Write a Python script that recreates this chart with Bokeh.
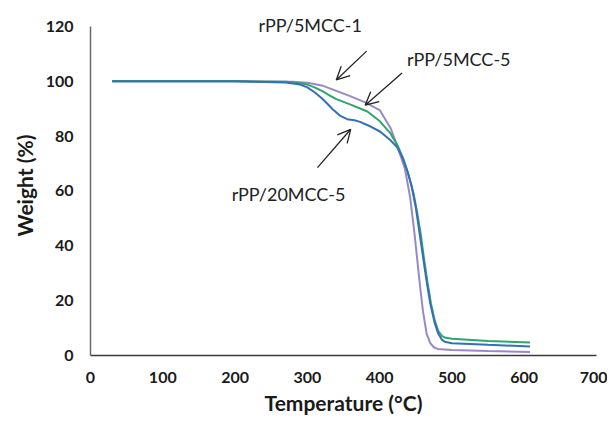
from bokeh.plotting import figure
from bokeh.models import Range1d, Arrow, OpenHead, Label, FixedTicker
from bokeh.embed import file_html
from bokeh.resources import INLINE

# Temperature (°C) and weight (%)
temp_5mcc1 = [30, 100, 200, 280, 300, 320, 340, 360, 380, 400, 415, 425, 435, 442, 448, 452, 456, 460, 465, 470, 475, 480, 500, 550, 608]
wt_5mcc1   = [100, 100, 100, 99.8, 99.5, 98.5, 96.5, 94.5, 92.3, 89.5, 83, 76, 68, 58, 45, 35, 25, 16, 8, 4.5, 3, 2.4, 2.0, 1.6, 1.3]

temp_5mcc5 = [30, 100, 200, 270, 290, 300, 310, 320, 330, 340, 360, 383, 400, 415, 425, 433, 440, 447, 452, 457, 461, 466, 471, 476, 481, 486, 490, 500, 550, 608]
wt_5mcc5   = [100, 100, 100, 99.8, 99.3, 98.8, 97.8, 96.5, 95, 93.5, 91.5, 89, 85.5, 81, 76.5, 71.5, 66, 59, 52, 44, 36, 27, 19, 13, 9, 7.2, 6.6, 6.1, 5.3, 4.7]

temp_20mcc5 = [30, 100, 200, 270, 290, 300, 310, 320, 327, 335, 345, 355, 365, 373, 385, 401, 415, 424, 432, 438, 444, 450, 455, 460, 465, 470, 476, 481, 486, 490, 500, 550, 608]
wt_20mcc5   = [100, 100, 100, 99.6, 98.8, 97.8, 96, 93.8, 92, 89.8, 87.5, 86.2, 85.8, 85.2, 83.8, 81.6, 78.5, 76, 72, 67.5, 62, 54, 45, 36, 27, 19, 12, 8, 5.8, 5.0, 4.5, 3.9, 3.3]

x_ticks = [0, 100, 200, 300, 400, 500, 600, 700]
y_ticks = [0, 20, 40, 60, 80, 100, 120]

series_names = ["rPP/5MCC-1", "rPP/5MCC-5", "rPP/20MCC-5"]

p = figure(width=607, height=417, output_backend="svg", toolbar_location=None,
           x_range=Range1d(0, 700), y_range=Range1d(0, 124),
           min_border_left=90, min_border_right=11, min_border_top=15, min_border_bottom=62)

p.grid.visible = False
p.outline_line_color = None
p.background_fill_color = "white"
p.border_fill_color = "white"

for ax in (p.xaxis[0], p.yaxis[0]):
    ax.major_tick_line_color = None
    ax.minor_tick_line_color = None
    ax.major_tick_out = 0
    ax.major_tick_in = 0
    ax.minor_tick_out = 0
    ax.minor_tick_in = 0
    ax.major_label_text_font = "Lato"
    ax.major_label_text_font_style = "bold"
    ax.major_label_text_font_size = "16px"
    ax.major_label_text_color = "#1a1a1a"
    ax.axis_label_text_font = "Lato"
    ax.axis_label_text_font_style = "bold"
    ax.axis_label_text_font_size = "21px"
    ax.axis_label_text_color = "#1a1a1a"
    ax.axis_line_width = 1.5

p.xaxis.ticker = FixedTicker(ticks=x_ticks)
p.yaxis.ticker = FixedTicker(ticks=y_ticks)
p.yaxis.bounds = (0, 120)
p.xaxis.axis_label = "Temperature (°C)"
p.yaxis.axis_label = "Weight (%)"
p.xaxis.axis_line_color = "#3a3a3a"
p.yaxis.axis_line_color = "#6a6a6a"
p.xaxis.major_label_standoff = 16
p.yaxis.major_label_standoff = 17
p.xaxis.axis_label_standoff = 4
p.yaxis.axis_label_standoff = 6

p.line(temp_5mcc1, wt_5mcc1, line_color="#9a88c6", line_width=2)
p.line(temp_5mcc5, wt_5mcc5, line_color="#2ea56c", line_width=2)
p.line(temp_20mcc5, wt_20mcc5, line_color="#356fb6", line_width=2)

# annotations (label text, text anchor, arrow start, arrow tip) in data units
label_pos = [(304, 120.5), (438, 108), (274, 59)]
arrow_from = [(382, 111), (431, 103), (314, 68.5)]
arrow_to = [(340, 100.5), (380, 91.3), (360, 82.5)]
aligns = ["center", "left", "center"]

for name, (lx, ly), (x0, y0), (x1, y1), al in zip(series_names, label_pos, arrow_from, arrow_to, aligns):
    p.add_layout(Label(x=lx, y=ly, text=name, text_font="Lato", text_font_size="18px",
                       text_color="#222222", text_align=al, text_baseline="middle"))
    p.add_layout(Arrow(end=OpenHead(size=13, line_color="#222222", line_width=1.3),
                       x_start=x0, y_start=y0, x_end=x1, y_end=y1,
                       line_color="#222222", line_width=1.3))

open("out.html", "w").write(file_html(p, INLINE))
